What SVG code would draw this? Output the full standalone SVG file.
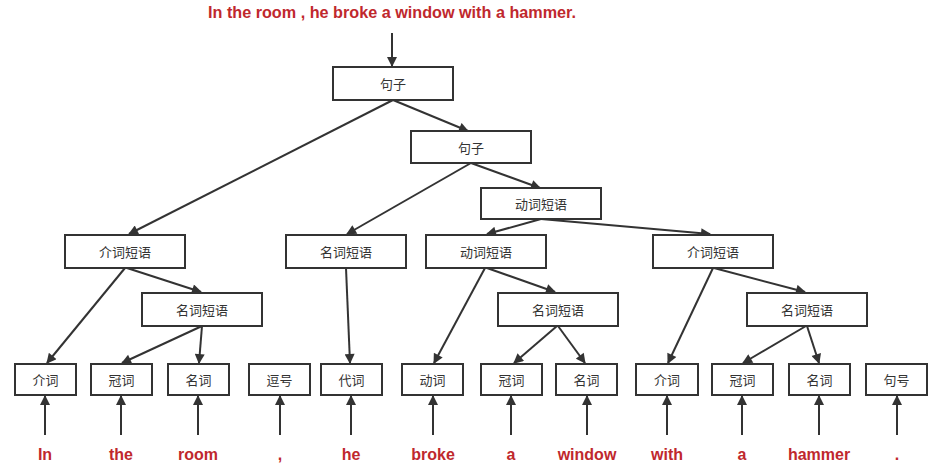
<svg xmlns="http://www.w3.org/2000/svg" width="939" height="476" viewBox="0 0 939 476">
<style>
.box{fill:#fff;stroke:#333;stroke-width:2}
.lbl{font-family:"Noto Sans CJK SC","Liberation Sans",sans-serif;font-size:13px;fill:#333;text-anchor:middle;dominant-baseline:central}
.word{font-family:"Liberation Sans","Noto Sans",sans-serif;font-size:16px;font-weight:bold;fill:#c0282d;text-anchor:middle}
.edge{stroke:#333;stroke-width:2;fill:none;marker-end:url(#ah)}
</style>
<defs>
<marker id="ah" viewBox="0 0 10 10" refX="9" refY="5" markerWidth="6" markerHeight="5" markerUnits="strokeWidth" orient="auto">
<path d="M0,0 L10,5 L0,10 z" fill="#333"/>
</marker>
</defs>
<rect width="939" height="476" fill="#fff"/>
<text class="word" x="392" y="18" textLength="368" lengthAdjust="spacingAndGlyphs">In the room , he broke a window with a hammer.</text>
<g id="connectors">
<line class="edge" x1="392" y1="33" x2="392" y2="66"/>
<line class="edge" x1="393" y1="100" x2="468" y2="131"/>
<line class="edge" x1="393" y1="100" x2="129" y2="234"/>
<line class="edge" x1="471" y1="163" x2="347" y2="234"/>
<line class="edge" x1="471" y1="163" x2="540" y2="188"/>
<line class="edge" x1="541" y1="219" x2="487" y2="234"/>
<line class="edge" x1="541" y1="219" x2="710" y2="234"/>
<line class="edge" x1="125" y1="268" x2="47" y2="363"/>
<line class="edge" x1="127" y1="268" x2="201" y2="292"/>
<line class="edge" x1="202" y1="326" x2="122" y2="363"/>
<line class="edge" x1="202" y1="326" x2="199" y2="363"/>
<line class="edge" x1="346" y1="268" x2="350" y2="363"/>
<line class="edge" x1="485" y1="268" x2="434" y2="363"/>
<line class="edge" x1="487" y1="268" x2="555" y2="292"/>
<line class="edge" x1="557" y1="326" x2="514" y2="363"/>
<line class="edge" x1="558" y1="326" x2="585" y2="363"/>
<line class="edge" x1="713" y1="268" x2="668" y2="363"/>
<line class="edge" x1="714" y1="268" x2="805" y2="292"/>
<line class="edge" x1="806" y1="326" x2="743" y2="363"/>
<line class="edge" x1="807" y1="326" x2="819" y2="363"/>
<line class="edge" x1="45" y1="435" x2="45" y2="396"/>
<line class="edge" x1="121" y1="435" x2="121" y2="396"/>
<line class="edge" x1="198" y1="435" x2="198" y2="396"/>
<line class="edge" x1="280" y1="435" x2="280" y2="396"/>
<line class="edge" x1="351" y1="435" x2="351" y2="396"/>
<line class="edge" x1="433" y1="435" x2="433" y2="396"/>
<line class="edge" x1="511" y1="435" x2="511" y2="396"/>
<line class="edge" x1="587" y1="435" x2="587" y2="396"/>
<line class="edge" x1="667" y1="435" x2="667" y2="396"/>
<line class="edge" x1="742" y1="435" x2="742" y2="396"/>
<line class="edge" x1="819" y1="435" x2="819" y2="396"/>
<line class="edge" x1="897" y1="435" x2="897" y2="396"/>
</g>
<g id="n-root"><rect class="box" x="333" y="67" width="120" height="33"/><text class="lbl" x="393" y="83.5">句子</text></g>
<g id="n-s2"><rect class="box" x="411" y="131" width="120" height="32"/><text class="lbl" x="471" y="147">句子</text></g>
<g id="n-vp1"><rect class="box" x="481" y="188" width="120" height="31"/><text class="lbl" x="541" y="203.5">动词短语</text></g>
<g id="n-pp1"><rect class="box" x="65" y="235" width="120" height="33"/><text class="lbl" x="125" y="251.5">介词短语</text></g>
<g id="n-np-he"><rect class="box" x="286" y="235" width="120" height="33"/><text class="lbl" x="346" y="251.5">名词短语</text></g>
<g id="n-vp2"><rect class="box" x="426" y="235" width="120" height="33"/><text class="lbl" x="486" y="251.5">动词短语</text></g>
<g id="n-pp2"><rect class="box" x="653" y="235" width="120" height="33"/><text class="lbl" x="713" y="251.5">介词短语</text></g>
<g id="n-np1"><rect class="box" x="142" y="293" width="120" height="33"/><text class="lbl" x="202" y="309.5">名词短语</text></g>
<g id="n-np2"><rect class="box" x="498" y="293" width="120" height="33"/><text class="lbl" x="558" y="309.5">名词短语</text></g>
<g id="n-np3"><rect class="box" x="747" y="293" width="120" height="33"/><text class="lbl" x="807" y="309.5">名词短语</text></g>
<g id="leaf-1"><rect class="box" x="15" y="364" width="61" height="31"/><text class="lbl" x="45.5" y="379.5">介词</text></g>
<g id="leaf-2"><rect class="box" x="91" y="364" width="61" height="31"/><text class="lbl" x="121.5" y="379.5">冠词</text></g>
<g id="leaf-3"><rect class="box" x="168" y="364" width="61" height="31"/><text class="lbl" x="198.5" y="379.5">名词</text></g>
<g id="leaf-4"><rect class="box" x="249" y="364" width="61" height="31"/><text class="lbl" x="279.5" y="379.5">逗号</text></g>
<g id="leaf-5"><rect class="box" x="321" y="364" width="61" height="31"/><text class="lbl" x="351.5" y="379.5">代词</text></g>
<g id="leaf-6"><rect class="box" x="402" y="364" width="61" height="31"/><text class="lbl" x="432.5" y="379.5">动词</text></g>
<g id="leaf-7"><rect class="box" x="481" y="364" width="61" height="31"/><text class="lbl" x="511.5" y="379.5">冠词</text></g>
<g id="leaf-8"><rect class="box" x="556" y="364" width="61" height="31"/><text class="lbl" x="586.5" y="379.5">名词</text></g>
<g id="leaf-9"><rect class="box" x="636" y="364" width="62" height="31"/><text class="lbl" x="667" y="379.5">介词</text></g>
<g id="leaf-10"><rect class="box" x="712" y="364" width="61" height="31"/><text class="lbl" x="742.5" y="379.5">冠词</text></g>
<g id="leaf-11"><rect class="box" x="789" y="364" width="61" height="31"/><text class="lbl" x="819.5" y="379.5">名词</text></g>
<g id="leaf-12"><rect class="box" x="866" y="364" width="61" height="31"/><text class="lbl" x="896.5" y="379.5">句号</text></g>
<g id="words">
<text class="word" x="45" y="460">In</text>
<text class="word" x="121" y="460">the</text>
<text class="word" x="198" y="460">room</text>
<text class="word" x="280" y="460">,</text>
<text class="word" x="351" y="460">he</text>
<text class="word" x="433" y="460">broke</text>
<text class="word" x="511" y="460">a</text>
<text class="word" x="587" y="460">window</text>
<text class="word" x="667" y="460">with</text>
<text class="word" x="742" y="460">a</text>
<text class="word" x="819" y="460">hammer</text>
<text class="word" x="897" y="460">.</text>
</g>
</svg>
